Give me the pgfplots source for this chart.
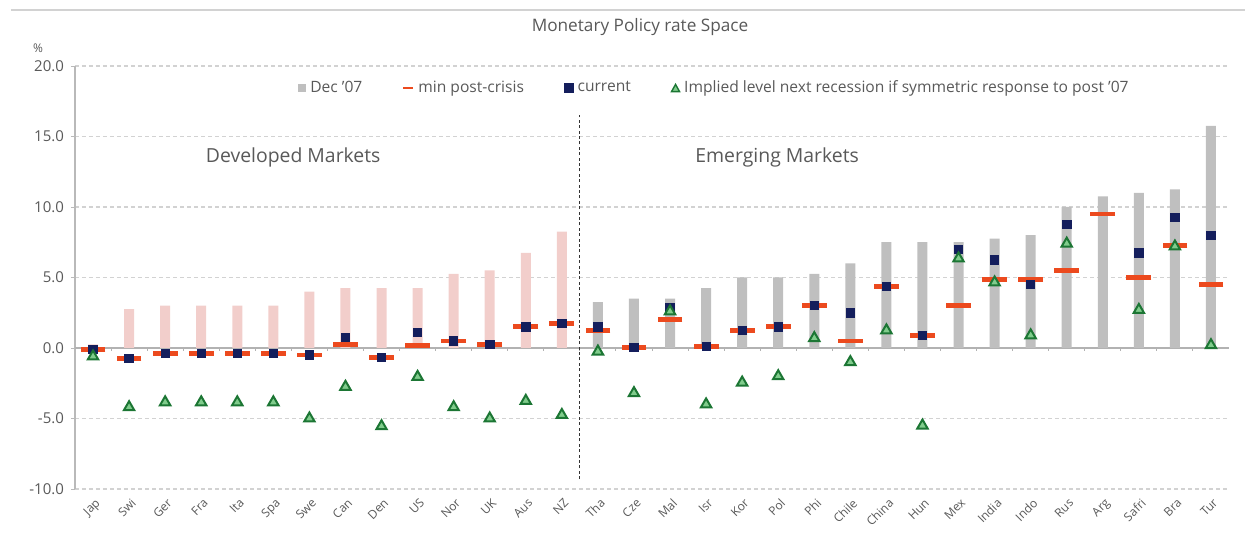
\documentclass[border=0pt]{standalone}
\usepackage{fontspec}
\setmainfont{Open Sans}
\usepackage{pgfplots}
\usepackage{pgfplotstable}
\pgfplotsset{compat=1.18}

\definecolor{dmpink}{RGB}{242,206,203}
\definecolor{emgrey}{RGB}{191,191,191}
\definecolor{minred}{RGB}{236,74,30}
\definecolor{curnavy}{RGB}{20,30,92}
\definecolor{trifill}{RGB}{128,204,140}
\definecolor{triedge}{RGB}{28,118,52}
\definecolor{txtgrey}{RGB}{89,89,89}
\definecolor{gridgrey}{RGB}{210,210,210}

% x: 0-13 developed, 14-31 emerging
\pgfplotstableread{
x  dec07  minpc  current  implied
0  0.25   -0.1   -0.1     -0.6
1  2.75   -0.75  -0.75    -4.2
2  3.0    -0.4   -0.4     -3.85
3  3.0    -0.4   -0.4     -3.85
4  3.0    -0.4   -0.4     -3.85
5  3.0    -0.4   -0.4     -3.85
6  4.0    -0.5   -0.5     -5.0
7  4.25   0.25   0.75     -2.75
8  4.25   -0.65  -0.65    -5.55
9  4.25   0.2    1.125    -2.05
10 5.25   0.5    0.5      -4.2
11 5.5    0.25   0.25     -5.0
12 6.75   1.5    1.5      -3.75
13 8.25   1.75   1.75     -4.75
14 3.25   1.25   1.5      -0.25
15 3.5    0.05   0.05     -3.2
16 3.5    2.0    2.9      2.6
17 4.25   0.1    0.1      -4.0
18 5.0    1.25   1.25     -2.45
19 5.0    1.5    1.5      -2.0
20 5.25   3.0    3.0      0.7
21 6.0    0.5    2.5      -1.0
22 7.5    4.35   4.35     1.25
23 7.5    0.9    0.9      -5.5
24 7.5    3.0    7.0      6.35
25 7.75   4.85   6.25     4.65
26 8.0    4.85   4.5      0.9
27 10.0   5.5    8.75     7.4
28 10.75  9.5    nan      nan
29 11.0   5.0    6.75     2.7
30 11.25  7.25   9.25     7.2
31 15.75  4.5    8.0      0.2
}\rates

\begin{document}
\begin{tikzpicture}
\useasboundingbox (-37.5pt,-22pt) rectangle (585pt,244.5pt);
\begin{axis}[
  scale only axis,
  width=577pt, height=211.5pt,
  xmin=-0.5, xmax=31.5,
  ymin=-10, ymax=20,
  axis y line*=left,
  axis x line*=bottom,
  x axis line style={draw=none},
  y axis line style={draw=gray!55, line width=1pt},
  xtick={0,...,31},
  xticklabels={Jap,Swi,Ger,Fra,Ita,Spa,Swe,Can,Den,US,Nor,UK,Aus,NZ,Tha,Cze,Mal,Isr,Kor,Pol,Phi,Chile,China,Hun,Mex,India,Indo,Rus,Arg,Safri,Bra,Tur},
  x tick label style={rotate=45, anchor=north east, inner sep=1pt, yshift=-1pt,
    font=\fontsize{6}{7}\selectfont, text=txtgrey},
  xtick style={draw=none},
  ytick={-10,-5,5,10,15,20},
  extra y ticks={0},
  extra y tick style={grid style={solid, draw=gray!60, line width=0.9pt}},
  y tick label style={font=\fontsize{7.5}{8}\selectfont, text=txtgrey,
    /pgf/number format/.cd, fixed, fixed zerofill, precision=1, assume math mode=true},
  ytick style={draw=gray!55},
  tick align=outside,
  major tick length=2pt,
  ymajorgrids,
  grid style={dash pattern=on 2pt off 1.5pt, draw=gridgrey, line width=0.6pt},
  legend style={at={(0.555,0.948)}, anchor=center, draw=none, fill=none,
    font=\fontsize{7.8}{9}\selectfont, text=txtgrey,
    /tikz/every even column/.append style={column sep=18pt}},
  legend columns=4,
]
  % Dec '07 bars
  \addplot[ybar, bar width=5pt, bar shift=0pt, fill=emgrey, draw=none,
    restrict x to domain=13.5:31.5,
    legend image code/.code={\fill[emgrey] (0pt,-2pt) rectangle (4pt,2pt);}]
    table[x=x, y=dec07]{\rates};
  \addlegendentry{Dec '07}
  \addplot[ybar, bar width=5pt, bar shift=0pt, fill=dmpink, draw=none,
    restrict x to domain=-0.5:13.5, forget plot]
    table[x=x, y=dec07]{\rates};

  % min post-crisis
  \addplot[only marks, mark=-, mark size=6.2pt,
    mark options={draw=minred, line width=2.4pt},
    legend image code/.code={\draw[minred, line width=1pt] (0pt,0pt) -- (5pt,0pt);}]
    table[x=x, y=minpc]{\rates};
  \addlegendentry{min post-crisis}

  % current
  \addplot[only marks, mark=square*, mark size=2.1pt,
    mark options={draw=curnavy, fill=curnavy},
    legend image code/.code={\fill[curnavy] (0pt,-2.2pt) rectangle (4.4pt,2.2pt);}]
    table[x=x, y=current]{\rates};
  \addlegendentry{current}

  % implied next recession
  \addplot[only marks, mark=triangle*, mark size=3pt,
    mark options={draw=triedge, fill=trifill, line width=1pt},
    legend image code/.code={\draw[triedge, fill=trifill, line width=0.7pt] (0pt,-1.8pt) -- (4pt,-1.8pt) -- (2pt,1.8pt) -- cycle;}]
    table[x=x, y=implied]{\rates};
  \addlegendentry{Implied level next recession if symmetric response to post '07}

  % small separators on zero line
  \pgfplotsinvokeforeach{0.5,1.5,...,30.5}{
    \draw[gray!60, line width=0.5pt] (axis cs:#1,0) -- ++(0pt,-1.5pt);
  }
  \draw[black!80, dash pattern=on 1.5pt off 1.2pt, line width=0.6pt]
    (axis cs:13.5,-9.3) -- (axis cs:13.5,16.5);
  \node[font=\fontsize{9.7}{11}\selectfont, text=txtgrey] at (axis cs:5.55,13.5) {Developed Markets};
  \node[font=\fontsize{9.7}{11}\selectfont, text=txtgrey] at (axis cs:18.97,13.5) {Emerging Markets};
\end{axis}
\draw[gray!35, line width=1pt] (-32pt,239.5pt) -- (585pt,239.5pt);
\node[font=\fontsize{8.6}{10}\selectfont, text=txtgrey] at (282.5pt,231pt) {Monetary Policy rate Space};
\node[font=\fontsize{6}{7}\selectfont, text=txtgrey] at (-18.5pt,220.5pt) {\%};
\end{tikzpicture}
\end{document}
